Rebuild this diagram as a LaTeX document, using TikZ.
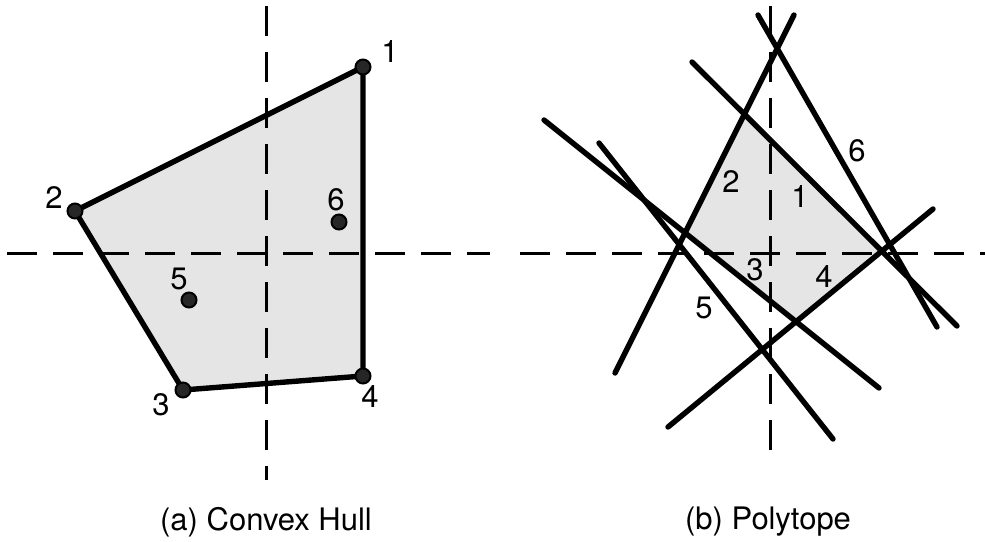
\documentclass[tikz,border=0pt]{standalone}
\usepackage{fontspec}
\setmainfont{TeX Gyre Heros}
\begin{document}
\begin{tikzpicture}[x=0.5pt,y=-0.5pt,
  axis/.style={line width=1.5pt,dash pattern=on 15pt off 8pt},
  edge/.style={line width=2.7pt,line join=round},
  cut/.style={line width=2.7pt,line cap=round},
  vertex/.style={circle,draw=black,fill=black!85,line width=1pt,inner sep=0pt,minimum size=7.5pt},
  lbl/.style={font=\fontsize{15.5}{18}\selectfont,inner sep=0pt}]
\useasboundingbox (0,0) rectangle (985,541);
% (a) convex hull
\coordinate (p1) at (363,67);
\coordinate (p2) at (75,211);
\coordinate (p3) at (183,390);
\coordinate (p4) at (363,376);
\fill[black!10] (p1) -- (p2) -- (p3) -- (p4) -- cycle;
\draw[axis] (7,253) -- (490,253);
\draw[axis] (266,6) -- (266,480);
\draw[edge] (p1) -- (p2) -- (p3) -- (p4) -- cycle;
\node[vertex] (v1) at (p1) {};
\node[vertex] (v2) at (p2) {};
\node[vertex] (v3) at (p3) {};
\node[vertex] (v4) at (p4) {};
\node[vertex] (v5) at (189,300) {};
\node[vertex] (v6) at (339,222) {};
\node[lbl] (n1) at (390,52) {1};
\node[lbl] (n2) at (54,198) {2};
\node[lbl] (n3) at (161,405) {3};
\node[lbl] (n4) at (370,397) {4};
\node[lbl] (n5) at (179,279) {5};
\node[lbl] (n6) at (336,200) {6};
\node[lbl] (capa) at (266,522) {(a) Convex Hull};
% (b) polytope
\coordinate (l1a) at (692,62);  \coordinate (l1b) at (957,326);
\coordinate (l2a) at (615,373); \coordinate (l2b) at (794,15);
\coordinate (l3a) at (544,120); \coordinate (l3b) at (879,388);
\coordinate (l4a) at (668,427); \coordinate (l4b) at (933,209);
\coordinate (l5a) at (599,143); \coordinate (l5b) at (833,439);
\coordinate (l6a) at (758,15);  \coordinate (l6b) at (937,327);
\coordinate (q1) at (intersection of l2a--l2b and l1a--l1b);
\coordinate (q2) at (intersection of l1a--l1b and l4a--l4b);
\coordinate (q3) at (intersection of l4a--l4b and l3a--l3b);
\coordinate (q4) at (intersection of l3a--l3b and l2a--l2b);
\fill[black!10] (q1) -- (q2) -- (q3) -- (q4) -- cycle;
\draw[axis] (520,253) -- (985,253);
\draw[axis] (770,6) -- (770,450);
\foreach \i in {1,...,6}
  \draw[cut] (l\i a) -- (l\i b);
\node[lbl] (m1) at (800,197) {1};
\node[lbl] (m2) at (731,182) {2};
\node[lbl] (m3) at (755,270) {3};
\node[lbl] (m4) at (824,277) {4};
\node[lbl] (m5) at (704,308) {5};
\node[lbl] (m6) at (857,151) {6};
\node[lbl] (capb) at (768,522) {(b) Polytope};
\end{tikzpicture}
\end{document}
